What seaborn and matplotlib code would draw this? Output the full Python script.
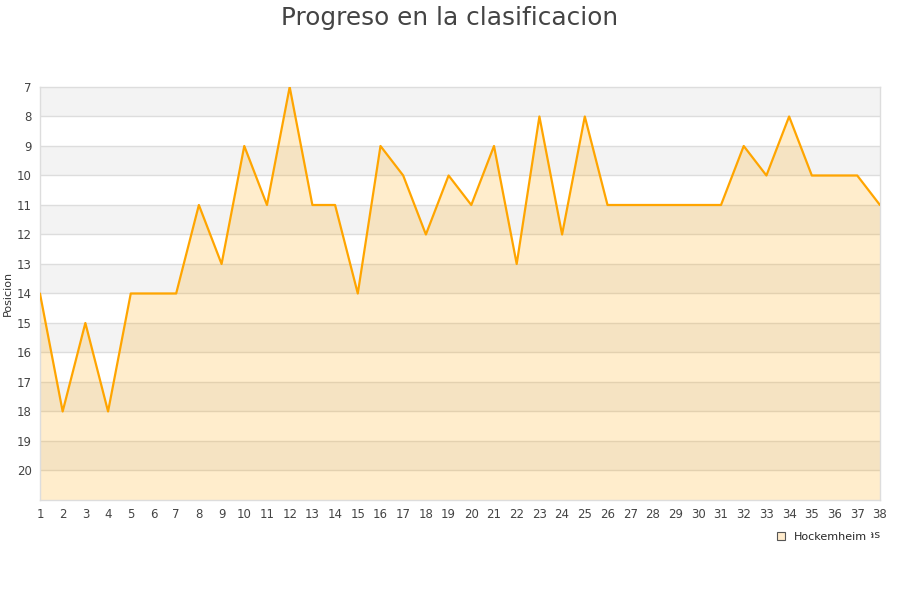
import numpy as np
import pandas as pd
import seaborn as sns
import matplotlib.pyplot as plt
from matplotlib.lines import Line2D

jornadas = list(range(1, 39))
posicion = [14, 18, 15, 18, 14, 14, 14, 11, 13, 9, 11, 7, 11, 11, 14, 9, 10, 12, 10, 11,
            9, 13, 8, 12, 8, 11, 11, 11, 11, 11, 11, 9, 10, 8, 10, 10, 10, 11]
equipo = "Hockemheim"
y_ticks = list(range(7, 21))

df = pd.DataFrame({'jornada': jornadas, 'posicion': posicion})

sns.set_style("white")
plt.rcParams['font.family'] = ['DejaVu Sans']

fig = plt.figure(figsize=(9, 6), dpi=100)
ax = fig.add_axes([0.0444, 0.1667, 0.9333, 0.6883])

# alternating background bands
for i, t in enumerate(y_ticks):
    ax.axhspan(t, t + 1, color='#f3f3f3' if i % 2 == 0 else 'white', zorder=0, lw=0)
for t in y_ticks[1:]:
    ax.axhline(t, color='#dddddd', lw=1, zorder=1)

ax.fill_between(df['jornada'], df['posicion'], y_ticks[-1] + 1,
                color='#FFA500', alpha=0.2, lw=0, zorder=2)
sns.lineplot(data=df, x='jornada', y='posicion', color='#FFA500', lw=1.6, ax=ax, zorder=3)

ax.set_xlim(jornadas[0], jornadas[-1])
ax.set_ylim(y_ticks[-1] + 1, y_ticks[0])
ax.set_xticks(jornadas)
ax.set_yticks(y_ticks)
ax.tick_params(axis='both', labelsize=8.5, colors='#444444', length=0, pad=6)
for s in ax.spines.values():
    s.set_color('#dddddd')
    s.set_linewidth(1)

ax.set_ylabel("Posicion", fontsize=8, color='#333333', labelpad=3)
ax.set_xlabel("")
# x-axis title sits partly behind the legend, as in the original
fig.text(0.978, 0.108, "Jornadas", ha='right', va='center', fontsize=8, color='#333333')

fig.suptitle("Progreso en la clasificacion", fontsize=17.8, color='#444444', y=0.99)

handle = Line2D([], [], marker='s', ls='', markersize=6, markerfacecolor='#FFEBCC',
                markeredgecolor='#555555', markeredgewidth=0.8, label=equipo)
fig.legend(handles=[handle], loc='center right', bbox_to_anchor=(0.973, 0.105),
           frameon=True, framealpha=1, edgecolor='white', fontsize=8,
           handletextpad=0.6, borderpad=0.3, handlelength=1)

fig.savefig('out.png', dpi=100)
